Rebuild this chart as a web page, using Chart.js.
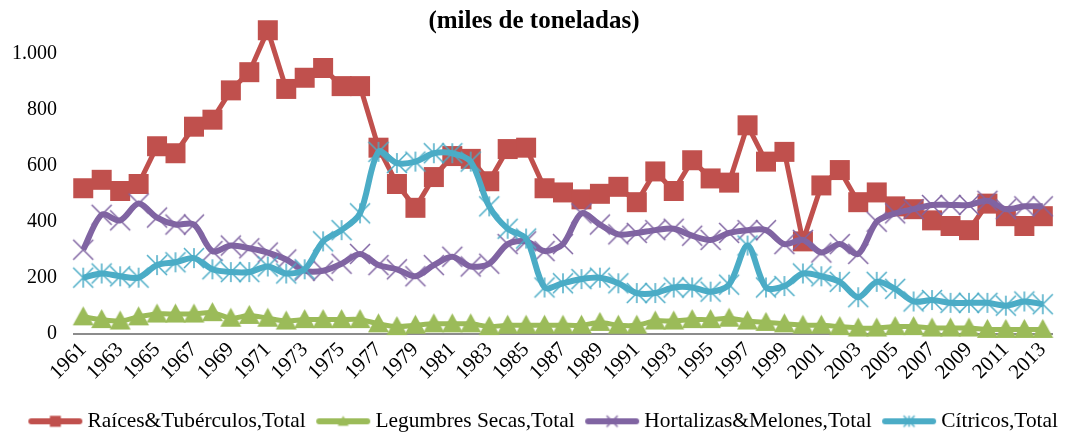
<!DOCTYPE html>
<html>
<head>
<meta charset="utf-8">
<script src="https://cdn.jsdelivr.net/npm/chart.js@4.4.1/dist/chart.umd.min.js"></script>
<style>
  html, body { margin: 0; padding: 0; background: #fff; }
  #wrap { width: 1068px; height: 434px; }
</style>
</head>
<body>
<div id="wrap"><canvas id="chart"></canvas></div>
<script>
// Años (categorías)
const years = ["1961","1962","1963","1964","1965","1966","1967","1968","1969","1970",
  "1971","1972","1973","1974","1975","1976","1977","1978","1979","1980",
  "1981","1982","1983","1984","1985","1986","1987","1988","1989","1990",
  "1991","1992","1993","1994","1995","1996","1997","1998","1999","2000",
  "2001","2002","2003","2004","2005","2006","2007","2008","2009","2010",
  "2011","2012","2013"];

// Series (miles de toneladas)
const raices = [520, 550, 510, 535, 670, 645, 740, 765, 870, 935,
  1085, 875, 915, 950, 885, 885, 665, 535, 450, 560,
  635, 625, 545, 660, 665, 520, 505, 480, 500, 525,
  470, 580, 510, 620, 555, 540, 745, 615, 650, 330,
  530, 585, 470, 505, 455, 445, 405, 385, 370, 465,
  420, 385, 420];
const legumbres = [60, 50, 45, 60, 70, 70, 70, 75, 55, 65,
  55, 45, 50, 50, 50, 50, 35, 25, 30, 35,
  35, 35, 25, 30, 30, 30, 30, 30, 40, 30,
  30, 45, 45, 50, 50, 55, 45, 40, 35, 30,
  30, 25, 20, 20, 25, 25, 20, 20, 20, 15,
  15, 15, 15];
const hortalizas = [300, 425, 405, 465, 415, 390, 390, 295, 315, 305,
  290, 265, 225, 225, 250, 285, 245, 230, 205, 245,
  275, 240, 250, 320, 330, 295, 320, 430, 390, 355,
  360, 370, 375, 350, 335, 360, 370, 370, 320, 335,
  290, 320, 285, 400, 430, 445, 460, 460, 460, 475,
  445, 455, 455];
const citricos = [200, 215, 205, 200, 245, 255, 270, 230, 220, 220,
  240, 215, 230, 330, 370, 430, 650, 610, 615, 645,
  645, 615, 455, 375, 340, 165, 180, 195, 200, 180,
  145, 145, 165, 165, 150, 175, 315, 165, 170, 215,
  205, 185, 130, 185, 160, 115, 120, 110, 110, 110,
  100, 115, 105];

const yTicks = [0, 200, 400, 600, 800, 1000];
const seriesNames = ["Raíces&Tubérculos,Total", "Legumbres Secas,Total",
  "Hortalizas&Melones,Total", "Cítricos,Total"];

const rojo = "#C0504D";
const verde = "#9BBB59";
const morado = "#8064A2";
const cian = "#4BACC6";

// Marcadores estilo Excel
function marker(kind, color, s) {
  const c = document.createElement("canvas");
  c.width = s + 4; c.height = s + 4;
  const g = c.getContext("2d");
  const m = (s + 4) / 2, h = s / 2;
  g.fillStyle = color; g.strokeStyle = color;
  if (kind === "square") {
    g.fillRect(m - h, m - h, s, s);
  } else if (kind === "triangle") {
    g.beginPath();
    g.moveTo(m, m - h);
    g.lineTo(m + h, m + h * 0.8);
    g.lineTo(m - h, m + h * 0.8);
    g.closePath(); g.fill();
  } else {
    g.lineWidth = 1.5;
    g.beginPath();
    g.moveTo(m - h, m - h); g.lineTo(m + h, m + h);
    g.moveTo(m + h, m - h); g.lineTo(m - h, m + h);
    if (kind === "star") { g.moveTo(m, m - h); g.lineTo(m, m + h); }
    g.stroke();
  }
  return c;
}

// icono de leyenda: línea + marcador (lienzo asimétrico para alinearlo con la caja)
function legendIcon(kind, color) {
  const c = document.createElement("canvas");
  c.width = 62; c.height = 16;
  const g = c.getContext("2d");
  g.strokeStyle = color; g.lineWidth = 6; g.lineCap = "round";
  g.beginPath(); g.moveTo(10, 8); g.lineTo(58, 8); g.stroke();
  const mk = marker(kind, color, 11);
  g.drawImage(mk, 34 - mk.width / 2, 8 - mk.height / 2);
  return c;
}

const kinds = ["square", "triangle", "cross", "star"];
const colors = [rojo, verde, morado, cian];
const legendIcons = kinds.map((k, i) => legendIcon(k, colors[i]));

const serif = "'Liberation Serif', 'Times New Roman', serif";

function ds(i, data, size, tension, order, width) {
  return {
    label: seriesNames[i],
    data: data,
    borderColor: colors[i],
    backgroundColor: colors[i],
    borderWidth: width,
    tension: tension,
    pointStyle: marker(kinds[i], colors[i], size),
    pointRadius: size / 2,
    clip: false,
    order: order
  };
}

new Chart(document.getElementById("chart"), {
  type: "line",
  data: {
    labels: years,
    datasets: [
      ds(0, raices, 20, 0, 3, 5),
      ds(1, legumbres, 21, 0.3, 2, 5),
      ds(2, hortalizas, 20, 0.3, 1, 6),
      ds(3, citricos, 20, 0.3, 0, 6)
    ]
  },
  options: {
    responsive: true,
    maintainAspectRatio: false,
    animation: false,
    layout: { padding: { left: 0, right: 0, top: 0, bottom: -8 } },
    plugins: {
      title: {
        display: true,
        text: "(miles de toneladas)",
        color: "#000",
        font: { family: serif, size: 25, weight: "bold" },
        padding: { top: 7, bottom: -11 }
      },
      legend: {
        position: "bottom",
        align: "end",
        labels: {
          usePointStyle: true,
          pointStyleWidth: 49,
          color: "#000",
          font: { family: serif, size: 21.4 },
          padding: 10,
          generateLabels: chart => chart.data.datasets.map((d, i) => ({
            text: d.label,
            pointStyle: legendIcons[i],
            fillStyle: colors[i],
            strokeStyle: colors[i],
            lineWidth: 0,
            hidden: false,
            datasetIndex: i
          }))
        }
      },
      tooltip: { enabled: false }
    },
    scales: {
      x: {
        offset: true,
        afterFit: s => { s.height = 67; s.paddingRight = 8; },
        grid: { display: false, drawTicks: false },
        border: { display: true, color: "#8c8c8c", width: 2 },
        ticks: {
          autoSkip: false,
          maxRotation: 45,
          minRotation: 45,
          padding: 4,
          color: "#000",
          font: { family: serif, size: 21 },
          callback: (v, i) => (i % 2 === 0 ? years[i] : "")
        }
      },
      y: {
        min: 0,
        max: 1100,
        afterBuildTicks: s => { s.ticks = yTicks.map(v => ({ value: v })); },
        afterFit: s => { s.width = 74; s.paddingTop = 0; s.paddingBottom = 0; },
        grid: { display: false, drawTicks: false },
        border: { display: false },
        ticks: {
          padding: 17,
          color: "#000",
          font: { family: serif, size: 20 },
          callback: v => String(v).replace(/\B(?=(\d{3})+(?!\d))/g, ".")
        }
      }
    }
  }
});
</script>
</body>
</html>
